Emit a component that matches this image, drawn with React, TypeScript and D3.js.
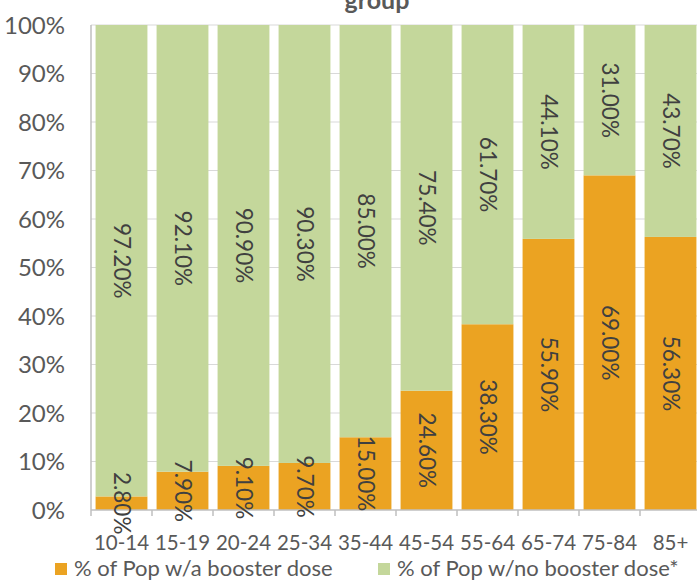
import React from "react";
import * as d3 from "d3";

const categories = ["10-14", "15-19", "20-24", "25-34", "35-44", "45-54", "55-64", "65-74", "75-84", "85+"];
const booster = [2.8, 7.9, 9.1, 9.7, 15.0, 24.6, 38.3, 55.9, 69.0, 56.3];
const noBooster = [97.2, 92.1, 90.9, 90.3, 85.0, 75.4, 61.7, 44.1, 31.0, 43.7];
const yTicks = [0, 10, 20, 30, 40, 50, 60, 70, 80, 90, 100];
const seriesNames = ["% of Pop w/a booster dose", "% of Pop w/no booster dose*"];

const W = 697, H = 580;
const left = 91, right = 701, top = 25, bottom = 510;
const ORANGE = "#EBA322";
const GREEN = "#C4D79B";
const FONT = "Lato, 'Open Sans', sans-serif";
const TXT = "#595959";
const LBL = "#404040";

export default function App() {
  const x = d3.scaleBand<string>().domain(categories).range([left, right]).paddingInner(0.15).paddingOuter(0.075);
  const y = d3.scaleLinear().domain([0, 100]).range([bottom, top]);
  const fmt = (v: number) => v.toFixed(2) + "%";
  const step = x.step();
  return (
    <svg width={W} height={H} style={{ position: "absolute", left: 0, top: 0, background: "#fff" }} fontFamily={FONT}>
      <text x={377} y={9} textAnchor="middle" fontSize={25} fontWeight="bold" fill={TXT}>group</text>
      {yTicks.map((t) => (
        <g key={t}>
          {t > 0 && <line x1={left} x2={right} y1={y(t)} y2={y(t)} stroke="#d9d9d9" strokeWidth={1.2} />}
          <text x={65} y={y(t)} dy="0.36em" textAnchor="end" fontSize={24} fill={TXT}>{t}%</text>
        </g>
      ))}
      {categories.map((c, i) => {
        const bx = x(c)!;
        const bw = x.bandwidth();
        const y0 = y(0), y1 = y(booster[i]), y2 = y(booster[i] + noBooster[i]);
        return (
          <g key={c}>
            <rect x={bx} y={y1} width={bw} height={y0 - y1} fill={ORANGE} />
            <rect x={bx} y={y2} width={bw} height={y1 - y2} fill={GREEN} />
          </g>
        );
      })}
      <line x1={left} x2={left} y1={top} y2={bottom} stroke="#bfbfbf" strokeWidth={1.5} />
      <line x1={left} x2={right} y1={bottom} y2={bottom} stroke="#bfbfbf" strokeWidth={1.5} />
      {d3.range(categories.length + 1).map((k) => (
        <line key={k} x1={left + k * step} x2={left + k * step} y1={bottom} y2={bottom + 6} stroke="#bfbfbf" strokeWidth={1.5} />
      ))}
      {categories.map((c, i) => {
        const cx = x(c)! + x.bandwidth() / 2;
        const m1 = y(booster[i] / 2);
        const m2 = y(booster[i] + noBooster[i] / 2);
        return (
          <g key={"l" + c}>
            <text transform={`translate(${cx},${m1}) rotate(90)`} textAnchor="middle" dy="0.35em" fontSize={22.5} fill={LBL}>{fmt(booster[i])}</text>
            <text transform={`translate(${cx},${m2}) rotate(90)`} textAnchor="middle" dy="0.35em" fontSize={22.5} fill={LBL}>{fmt(noBooster[i])}</text>
            <text x={cx} y={550} textAnchor="middle" fontSize={20.5} fill={TXT}>{c}</text>
          </g>
        );
      })}
      <rect x={55} y={563} width={12} height={12} fill={ORANGE} />
      <text x={74} y={576} fontSize={22} fill={TXT}>{seriesNames[0]}</text>
      <rect x={378} y={563} width={12} height={12} fill={GREEN} />
      <text x={397} y={576} fontSize={22} fill={TXT}>{seriesNames[1]}</text>
    </svg>
  );
}
